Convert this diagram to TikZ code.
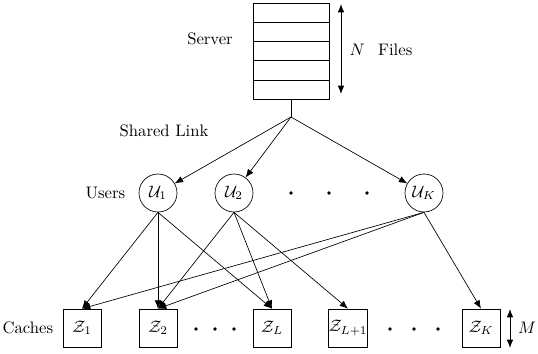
\documentclass[tikz,border=0pt]{standalone}
\usetikzlibrary{arrows.meta,calc}
\begin{document}
\begin{tikzpicture}[x=0.6pt, y=-0.6pt,
	user/.style={circle, draw, minimum size=22.8pt, inner sep=0pt},
	cache/.style={draw, minimum size=22.8pt, inner sep=0pt},
	link/.style={-{Latex[length=5pt, width=4pt]}}]

\useasboundingbox (0,0) rectangle (538,354);

% server with N files
\node[draw, minimum width=45.6pt, minimum height=57.6pt, inner sep=0pt] (server) at (291,51) {};
\foreach \i in {1,...,4}
\draw ($(server.north west)!\i/5!(server.south west)$) -- ($(server.north east)!\i/5!(server.south east)$);
\node at (210,39) {Server};
\coordinate (ntop) at (341,4);
\coordinate (nbot) at (341,94);
\draw[{Latex[length=5pt, width=4pt]}-{Latex[length=5pt, width=4pt]}, semithick] (ntop) -- (nbot);
\node (files) at (381,50) {$N$\hspace{8pt}Files};

% shared link
\coordinate (split) at (291,117);
\draw (server.south) -- (split);
\node at (164,131) {Shared Link};

% users
\node[anchor=east] (users) at (131,193) {Users};
\node[user] (u1) at (158,193) {$\mathcal{U}_1$};
\node[user] (u2) at (234,193) {$\mathcal{U}_2$};
\node[user] (uk) at (424,193) {$\mathcal{U}_K$};
\foreach \x in {291, 329, 367}
\fill (\x,193) circle (1.8);
\foreach \u in {u1, u2, uk}
\draw[link] (split) -- (\u);

% caches
\node[anchor=east] (caches) at (59,328) {Caches};
\node[cache] (z1) at (82,328) {$\mathcal{Z}_1$};
\node[cache] (z2) at (158,328) {$\mathcal{Z}_2$};
\node[cache] (zl) at (272,328) {$\mathcal{Z}_L$};
\node[cache] (zl1) at (348,328) {$\mathcal{Z}_{L+1}$};
\node[cache] (zk) at (481,328) {$\mathcal{Z}_K$};
\foreach \x in {196, 215, 234, 390, 414, 438}
\fill (\x,329) circle (1.8);
\coordinate (mtop) at (510,309);
\coordinate (mbot) at (510,348);
\draw[{Latex[length=5pt, width=4pt]}-{Latex[length=5pt, width=4pt]}, semithick] (mtop) -- (mbot);
\node (m) at (527,328) {$M$};

% user to cache links
\draw[link] (u1.south) -- (z1.north);
\draw[link] (u1.south) -- (z2.north);
\draw[link] (u1.south) -- (zl.north);
\draw[link] (u2.south) -- (z2.north);
\draw[link] (u2.south) -- (zl.north);
\draw[link] (u2.south) -- (zl1.north);
\draw[link] (uk.south) -- (z1.north);
\draw[link] (uk.south) -- (z2.north);
\draw[link] (uk.south) -- (zk.north);

\end{tikzpicture}
\end{document}
